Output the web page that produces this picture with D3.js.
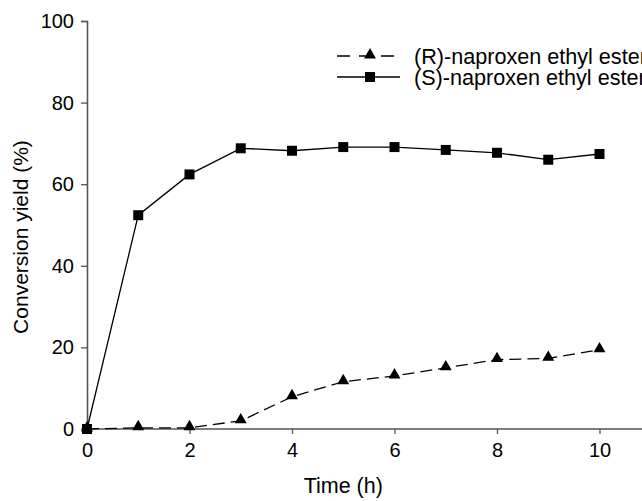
<!DOCTYPE html>
<html>
<head>
<meta charset="utf-8">
<script src="https://cdn.jsdelivr.net/npm/d3@7"></script>
<style>
  body { margin: 0; background: #fff; }
  svg { display: block; font-family: "Liberation Sans", Arial, sans-serif; }
</style>
</head>
<body>
<div class="container"></div>
<script>
const times = [0, 1, 2, 3, 4, 5, 6, 7, 8, 9, 10];
const rValues = [0, 0.3, 0.3, 2.0, 7.9, 11.6, 13.0, 15.0, 17.0, 17.3, 19.4];
const sValues = [0, 52.4, 62.4, 68.8, 68.2, 69.1, 69.1, 68.4, 67.7, 66.0, 67.4];
const xTicks = [0, 2, 4, 6, 8, 10];
const yTicks = [0, 20, 40, 60, 80, 100];
const seriesNames = ['(R)-naproxen ethyl ester', '(S)-naproxen ethyl ester'];

const width = 642;
const height = 501;
const margin = { left: 87, top: 21, bottom: 72 };

const svg = d3.select('.container')
  .append('svg')
  .attr('width', width)
  .attr('height', height);

const x = d3.scaleLinear().domain([0, 10]).range([margin.left, margin.left + 512.5]);
const y = d3.scaleLinear().domain([0, 100]).range([height - margin.bottom, margin.top]);

const axisColor = '#555';

// x axis
const xAxis = svg.append('g')
  .attr('transform', `translate(0,${y(0)})`)
  .call(d3.axisBottom(x).tickValues(xTicks).tickSize(5).tickPadding(5).tickFormat(d3.format('d')));
xAxis.select('.domain').attr('d', `M${x(0)},0H${width}`);

// y axis
const yAxis = svg.append('g')
  .attr('transform', `translate(${x(0)},0)`)
  .call(d3.axisLeft(y).tickValues(yTicks).tickSize(6).tickPadding(7).tickFormat(d3.format('d')));

[xAxis, yAxis].forEach(ax => {
  ax.select('.domain').attr('stroke', axisColor).attr('stroke-width', 1.6);
  ax.selectAll('.tick line').attr('stroke', axisColor).attr('stroke-width', 1.3);
  ax.selectAll('.tick text').attr('fill', '#000').attr('font-size', 20)
    .attr('font-family', '"Liberation Sans", Arial, sans-serif');
});
xAxis.selectAll('.tick text').attr('dy', '0.9em');

// axis titles
svg.append('text')
  .attr('x', (x(0) + x(10)) / 2)
  .attr('y', 493)
  .attr('text-anchor', 'middle')
  .attr('font-size', 21.5)
  .text('Time (h)');

svg.append('text')
  .attr('transform', `translate(28,237) rotate(-90)`)
  .attr('text-anchor', 'middle')
  .attr('font-size', 21)
  .text('Conversion yield (%)');

const line = d3.line()
  .x((d, i) => x(times[i]))
  .y(d => y(d));

const triangle = d3.symbol().type(d3.symbolTriangle).size(62);
const square = d3.symbol().type(d3.symbolSquare).size(100);

// S series
svg.append('path')
  .datum(sValues)
  .attr('fill', 'none')
  .attr('stroke', '#000')
  .attr('stroke-width', 1.3)
  .attr('d', line);

// R series
svg.append('path')
  .datum(rValues)
  .attr('fill', 'none')
  .attr('stroke', '#000')
  .attr('stroke-width', 1.3)
  .attr('stroke-dasharray', '12,6')
  .attr('d', line);

svg.append('g').selectAll('path')
  .data(sValues)
  .enter()
  .append('path')
  .attr('d', square)
  .attr('transform', (d, i) => `translate(${x(times[i])},${y(d)})`)
  .attr('fill', '#000');

svg.append('g').selectAll('path')
  .data(rValues)
  .enter()
  .append('path')
  .attr('d', triangle)
  .attr('transform', (d, i) => `translate(${x(times[i])},${y(d) - 1})`)
  .attr('fill', '#000');

// legend
const legend = svg.append('g');
const legendRows = [
  { name: seriesNames[0], dash: '13,9', sym: triangle, y: 56 },
  { name: seriesNames[1], dash: null, sym: square, y: 77 }
];
legendRows.forEach(r => {
  legend.append('line')
    .attr('x1', 337).attr('x2', 400)
    .attr('y1', r.y).attr('y2', r.y)
    .attr('stroke', '#000').attr('stroke-width', 1.3)
    .attr('stroke-dasharray', r.dash);
  legend.append('path')
    .attr('d', r.sym)
    .attr('transform', `translate(370,${r.y - (r.sym === triangle ? 1 : 0)})`)
    .attr('fill', '#000');
  legend.append('text')
    .attr('x', 414)
    .attr('y', r.y)
    .attr('dy', '0.35em')
    .attr('font-size', 21.6)
    .text(r.name);
});
</script>
</body>
</html>
